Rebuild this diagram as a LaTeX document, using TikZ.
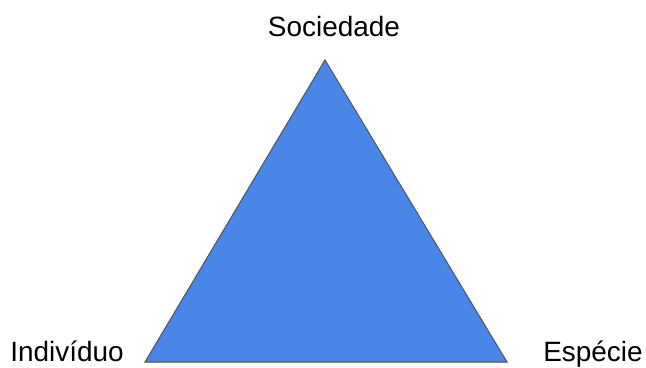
\documentclass[tikz,border=0pt]{standalone}
\usepackage{fontspec}
\setmainfont{Liberation Sans}
\definecolor{triblue}{RGB}{74,134,232}
\definecolor{edgegray}{RGB}{85,85,85}
\usetikzlibrary{positioning}
\begin{document}
\begin{tikzpicture}[x=0.02cm,y=-0.02cm,
  lbl/.style={anchor=base,inner sep=0pt,font=\fontsize{15.9}{18}\selectfont}]
  \useasboundingbox (0,0) rectangle (646,368);
  % corners of the triangle
  \coordinate (top) at (325,60);
  \coordinate (left) at (145,362);
  \coordinate (right) at (507,362);
  \filldraw[fill=triblue,draw=edgegray,line width=0.6pt,line join=miter] (top) -- (left) -- (right) -- cycle;
  % labels
  \node[lbl] (soc) at (334,37) {Sociedade};
  \node[lbl] (ind) at (67,361) {Indivíduo};
  \node[lbl] (esp) at (593,361) {Espécie};
\end{tikzpicture}
\end{document}
